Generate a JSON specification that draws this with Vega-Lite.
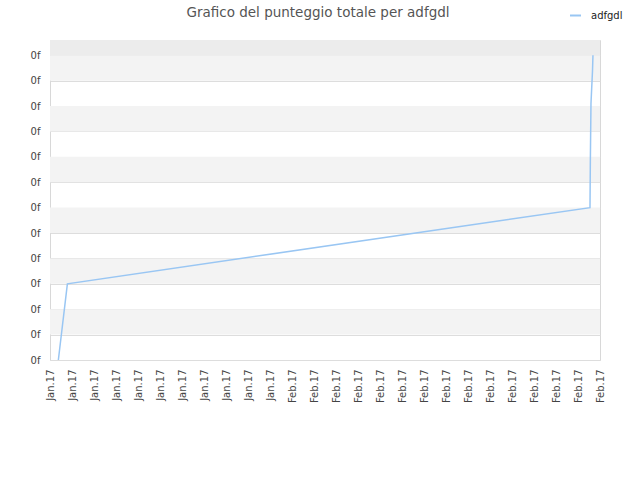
{
  "$schema": "https://vega.github.io/schema/vega-lite/v6.json",
  "width": 550,
  "height": 320,
  "autosize": {"type": "none"},
  "padding": {"left": 50, "top": 40, "right": 40, "bottom": 120},
  "title": {
    "text": "Grafico del punteggio totale per adfgdl",
    "font": "DejaVu Sans",
    "fontSize": 13.5,
    "fontWeight": "normal",
    "color": "#555555",
    "anchor": "middle",
    "dx": -7,
    "dy": 10,
    "offset": 0
  },
  "config": {
    "view": {"stroke": "#d8d8d8"},
    "font": "DejaVu Sans",
    "axisY": {
      "title": null,
      "labelFontSize": 10,
      "labelColor": "#444444",
      "labelPadding": 10,
      "labelOverlap": false,
      "ticks": false,
      "domain": false,
      "grid": true,
      "gridColor": "#dddddd",
      "zindex": 1
    }
  },
  "datasets": {
    "bands": [
      {"lo": 1, "hi": 2, "kind": "band"},
      {"lo": 3, "hi": 4, "kind": "band"},
      {"lo": 5, "hi": 6, "kind": "band"},
      {"lo": 7, "hi": 8, "kind": "band"},
      {"lo": 9, "hi": 10, "kind": "band"},
      {"lo": 11, "hi": 12, "kind": "band"},
      {"lo": 12, "hi": 12.6, "kind": "top"}
    ],
    "scores": [
      {"t": 0.38, "score": 0, "utente": "adfgdl"},
      {"t": 0.79, "score": 3, "utente": "adfgdl"},
      {"t": 24.545, "score": 6, "utente": "adfgdl"},
      {"t": 24.56, "score": 7.7, "utente": "adfgdl"},
      {"t": 24.59, "score": 10.1, "utente": "adfgdl"},
      {"t": 24.66, "score": 11.4, "utente": "adfgdl"},
      {"t": 24.68, "score": 12, "utente": "adfgdl"}
    ]
  },
  "layer": [
    {
      "data": {"name": "bands"},
      "transform": [{"filter": "datum.kind === 'band'"}],
      "mark": {"type": "rect", "fill": "#f3f3f3"},
      "encoding": {
        "y": {
          "field": "lo",
          "type": "quantitative",
          "title": null,
          "scale": {"domain": [0, 12.6], "nice": false, "zero": false},
          "axis": {
            "values": [0, 1, 2, 3, 4, 5, 6, 7, 8, 9, 10, 11, 12],
            "labelExpr": "'0f'"
          }
        },
        "y2": {"field": "hi"}
      }
    },
    {
      "data": {"name": "bands"},
      "transform": [{"filter": "datum.kind === 'top'"}],
      "mark": {"type": "rect", "fill": "#ececec"},
      "encoding": {
        "y": {
          "field": "lo",
          "type": "quantitative",
          "title": null,
          "scale": {"domain": [0, 12.6], "nice": false, "zero": false},
          "axis": {
            "values": [0, 1, 2, 3, 4, 5, 6, 7, 8, 9, 10, 11, 12],
            "labelExpr": "'0f'"
          }
        },
        "y2": {"field": "hi"}
      }
    },
    {
      "data": {"name": "scores"},
      "mark": {"type": "line", "strokeWidth": 1.5},
      "encoding": {
        "x": {
          "field": "t",
          "type": "quantitative",
          "title": null,
          "scale": {"domain": [0, 25], "nice": false, "zero": false},
          "axis": {
            "values": [0, 1, 2, 3, 4, 5, 6, 7, 8, 9, 10, 11, 12, 13, 14, 15, 16, 17, 18, 19, 20, 21, 22, 23, 24, 25],
            "labelExpr": "datum.value <= 10 ? 'Jan.17' : 'Feb.17'",
            "labelAngle": -90,
            "labelFontSize": 10,
            "labelColor": "#444444",
            "labelPadding": 9,
            "labelOverlap": false,
            "ticks": false,
            "domain": false,
            "grid": false
          }
        },
        "y": {
          "field": "score",
          "type": "quantitative",
          "title": null,
          "scale": {"domain": [0, 12.6], "nice": false, "zero": false},
          "axis": {
            "values": [0, 1, 2, 3, 4, 5, 6, 7, 8, 9, 10, 11, 12],
            "labelExpr": "'0f'"
          }
        },
        "color": {
          "field": "utente",
          "type": "nominal",
          "scale": {"range": ["#99c6f3"]},
          "legend": {
            "title": null,
            "orient": "none",
            "legendX": 519,
            "legendY": -31,
            "symbolType": "stroke",
            "symbolSize": 120,
            "symbolStrokeWidth": 2,
            "labelOffset": 9,
            "labelFontSize": 10,
            "labelColor": "#222222"
          }
        }
      }
    }
  ]
}
